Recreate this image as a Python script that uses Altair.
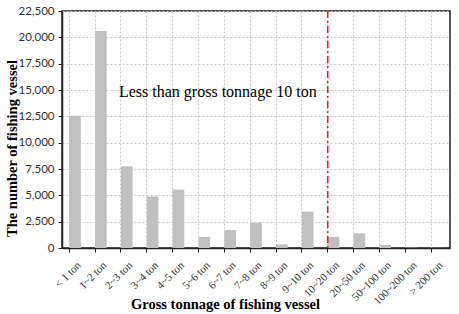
import altair as alt
import pandas as pd

# Fishing vessel counts by gross tonnage class
categories = ["< 1 ton", "1~2 ton", "2~3 ton", "3~4 ton", "4~5 ton", "5~6 ton",
              "6~7 ton", "7~8 ton", "8~9 ton", "9~10 ton", "10~20 ton",
              "20~50 ton", "50~100 ton", "100~200 ton", "> 200 ton"]
counts = [12550, 20600, 7750, 4900, 5550, 1050, 1700, 2400, 350, 3450,
          1050, 1400, 300, 30, 10]

threshold_category = ["10~20 ton"]
annotation = ["Less than gross tonnage 10 ton"]
annotation_y = [14800]

y_ticks = list(range(0, 22501, 2500))

df = pd.DataFrame({"tonnage": categories, "count": counts})
rule_df = pd.DataFrame({"tonnage": threshold_category})
text_df = pd.DataFrame({"tonnage": threshold_category, "label": annotation, "y": annotation_y})

serif = "Liberation Serif"
sans = "Lato"

x_enc = alt.X(
    "tonnage:N", sort=categories,
    scale=alt.Scale(paddingInner=0.55, paddingOuter=0.28),
    axis=alt.Axis(
        title="Gross tonnage of fishing vessel", titleFont=serif, titleFontSize=14.5,
        titleFontWeight="bold", titleColor="black",
        titleX=163, titleY=56, titleBaseline="middle", titleAnchor="middle",
        labelFont=serif, labelFontSize=11, labelColor="#333", labelAngle=-45,
        labelAlign="right", labelBaseline="top", labelPadding=7,
        bandPosition=0, grid=True, gridDash=[2, 2], gridColor="#c8c8c8",
        domainColor="#222", domainWidth=1.5, tickColor="#222", tickSize=4,
    ),
)

bars = alt.Chart(df).mark_bar(color="#c0c0c0").encode(
    x=x_enc,
    y=alt.Y(
        "count:Q", scale=alt.Scale(domain=[0, 22500], nice=False),
        axis=alt.Axis(
            values=y_ticks, tickCount=len(y_ticks), format=",.0f",
            title="The number of fishing vessel",
            titleFont=serif, titleFontSize=14.5, titleFontWeight="bold",
            titleColor="black", titleX=-50, titleY=137, titleBaseline="middle",
            titleAnchor="middle", titleAngle=-90,
            labelFont=sans, labelFontSize=11.5, labelColor="#333", labelPadding=4,
            labelOverlap=False, labelBound=False, labelFlush=False,
            grid=True, gridDash=[2, 2], gridColor="#c8c8c8",
            domainColor="#222", domainWidth=1.5, tickColor="#222", tickSize=4,
        ),
    ),
)

rule = alt.Chart(rule_df).mark_rule(
    color="#e0202a", strokeWidth=1.6, strokeDash=[7, 3, 2, 3]
).encode(
    x=alt.X("tonnage:N", sort=categories, bandPosition=0),
    y=alt.value(0), y2=alt.value(237),
)

text = alt.Chart(text_df).mark_text(
    font=serif, fontSize=16, align="right", baseline="middle", dx=-11, color="black"
).encode(
    x=alt.X("tonnage:N", sort=categories, bandPosition=0),
    y=alt.Y("y:Q"),
    text="label:N",
)

chart = alt.layer(bars, rule, text).properties(
    width=388, height=237,
    autosize=alt.AutoSizeParams(type="none"),
    padding={"left": 62, "top": 11, "right": 9, "bottom": 66},
    background="white",
).configure_view(stroke="#222", strokeWidth=1.5)

chart.save("out.html", embed_options={"renderer": "svg", "actions": False})
